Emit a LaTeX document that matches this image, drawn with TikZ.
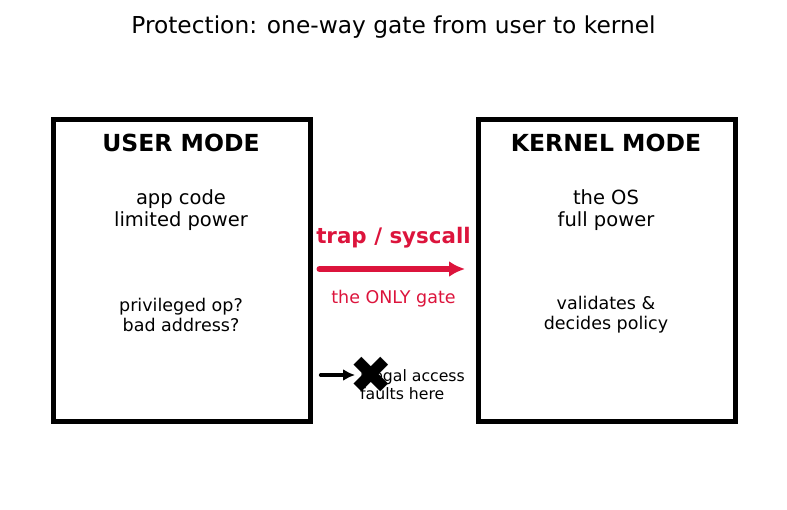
\documentclass[tikz,border=0pt]{standalone}
\usepackage{fontspec}
\setmainfont{DejaVu Sans}
\usetikzlibrary{arrows.meta}
\definecolor{gatered}{HTML}{DC143C}
\newcommand{\fs}[1]{\fontsize{#1}{1.15\dimexpr#1pt\relax}\selectfont}
\begin{document}
\begin{tikzpicture}[x=1pt,y=-1pt,
  modebox/.style={draw=black, line width=5pt, minimum width=257pt, minimum height=301pt, inner sep=0pt},
  head/.style={font=\fs{23.5}\bfseries, align=center, inner sep=0pt},
  bodyL/.style={font=\fs{19.5}, align=center, inner sep=0pt},
  bodyS/.style={font=\fs{17.5}, align=center, inner sep=0pt},
  redarrow/.style={draw=gatered, line width=6pt, line cap=round, -{Latex[length=16pt,width=16pt]}},
  blkarrow/.style={draw=black, line width=3.2pt, line cap=round, -{Latex[length=12pt,width=12pt]}}]
\useasboundingbox (0,0) rectangle (787,510);
\node[font=\fs{23.3}, inner sep=0pt] (title) at (393.5,27) {Protection: one-way gate from user to kernel};
\node[modebox] (user) at (181.5,270.5) {};
\node[modebox] (kernel) at (607,270.5) {};
\node[head] (uhead) at (181,143) {USER MODE};
\node[bodyL] (ubody) at (181,210) {app code\\limited power};
\node[bodyS] (uq) at (181,315) {privileged op?\\bad address?};
\node[head] (khead) at (606,143) {KERNEL MODE};
\node[bodyL] (kbody) at (606,210) {the OS\\full power};
\node[bodyS] (kq) at (606,315) {validates \&\\decides policy};
\node[font=\fs{21.4}\bfseries, text=gatered, inner sep=0pt] (trap) at (393.5,238) {trap / syscall};
\node[font=\fs{17.5}, text=gatered, inner sep=0pt] (only) at (393.5,299) {the ONLY gate};
\node[font=\fs{15.7}, align=left, anchor=west, inner sep=0pt] (fault) at (360,385) {illegal access\\faults here};
\node[font=\fs{52}, inner sep=0pt] (xmark) at (371,375) {✖};
\coordinate (rs) at ([shift={(7,-1.5)}]user.east);
\coordinate (re) at ([shift={(-11,-1.5)}]kernel.west);
\draw[redarrow] (rs) -- (re);
\coordinate (bs) at (user.east |- xmark);
\draw[blkarrow] ([xshift=8]bs) -- ([xshift=-16]xmark.center |- bs);
\end{tikzpicture}
\end{document}
